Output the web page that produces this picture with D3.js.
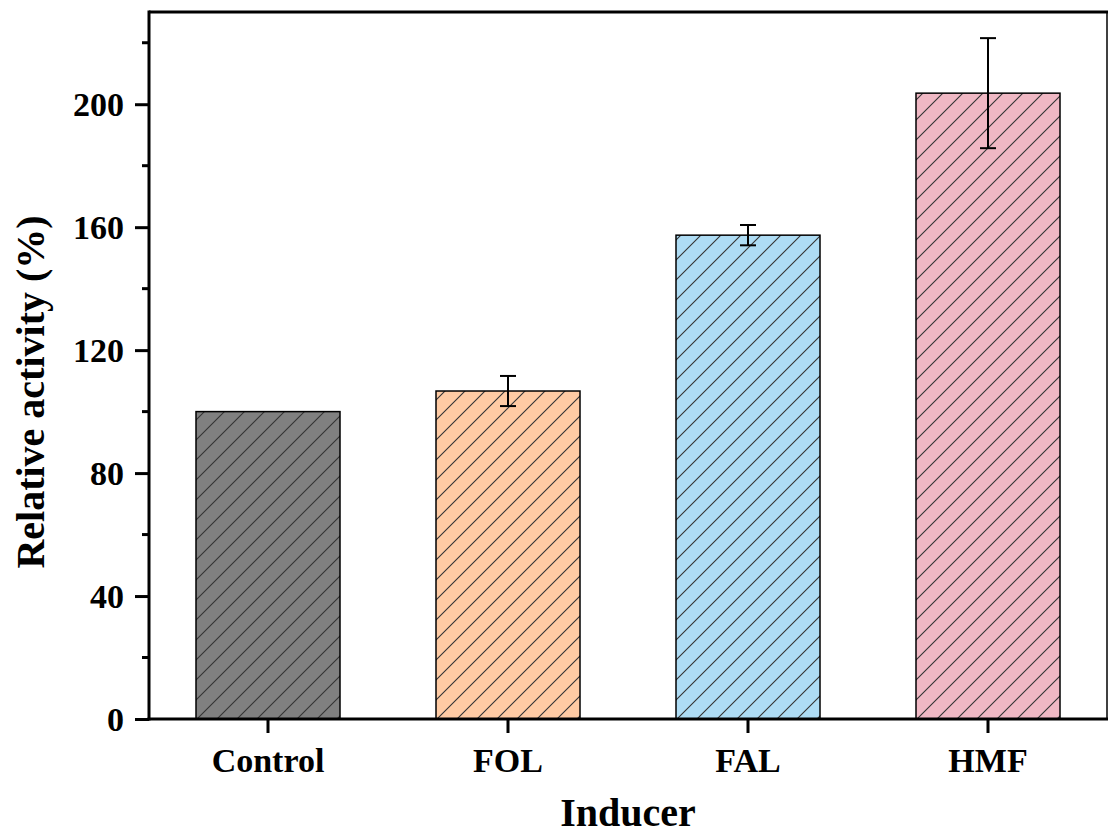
<!DOCTYPE html>
<html><head><meta charset="utf-8">
<script src="https://cdn.jsdelivr.net/npm/d3@7"></script>
<style>body{margin:0;background:#fff;} text{font-family:"Liberation Serif","Times New Roman",serif;font-weight:bold;}</style>
</head><body>
<svg id="c" width="1109" height="836"></svg>
<script>
const categories = ["Control","FOL","FAL","HMF"];
const values = [100, 106.7, 157.4, 203.6];
const errors = [0, 4.9, 3.3, 17.9];
const colors = ["#808080","#FFCBA4","#AEDCF4","#F0B8C4"];
const yTicks = [0,40,80,120,160,200];
const yMinorTicks = [20,60,100,140,180,220];

const svg = d3.select("#c");
const L=149, R=1107, T=12, B=719;
const x = d3.scaleBand().domain(categories).range([L-1,R+1]).paddingInner(0.4).paddingOuter(0.2);
const y = d3.scaleLinear().domain([0,230]).range([B,T]);

const defs = svg.append("defs");
categories.forEach((c,i)=>{
  const p = defs.append("pattern").attr("id","h"+i).attr("patternUnits","userSpaceOnUse")
    .attr("width",20).attr("height",20).attr("x",x(c)).attr("y",0);
  p.append("rect").attr("width",20).attr("height",20).attr("fill",colors[i]);
  p.append("path").attr("d","M-5,5 L5,-5 M0,20 L20,0 M15,25 L25,15").attr("stroke","#333").attr("stroke-width",1.1);
});

// bars
svg.selectAll("rect.bar").data(categories).enter().append("rect")
  .attr("x",d=>x(d)).attr("width",x.bandwidth())
  .attr("y",(d,i)=>y(values[i])).attr("height",(d,i)=>y(0)-y(values[i]))
  .attr("fill",(d,i)=>`url(#h${i})`).attr("stroke","#000").attr("stroke-width",1.5);

// error bars
categories.forEach((c,i)=>{
  if(!errors[i]) return;
  const cx = x(c)+x.bandwidth()/2;
  const g = svg.append("g").attr("stroke","#000").attr("stroke-width",2);
  g.append("line").attr("x1",cx).attr("x2",cx).attr("y1",y(values[i]+errors[i])).attr("y2",y(values[i]-errors[i]));
  [values[i]+errors[i], values[i]-errors[i]].forEach(v=>{
    g.append("line").attr("x1",cx-8).attr("x2",cx+8).attr("y1",y(v)).attr("y2",y(v));
  });
});

// frame
svg.append("line").attr("x1",L).attr("x2",R+1).attr("y1",T).attr("y2",T).attr("stroke","#000").attr("stroke-width",3);
svg.append("line").attr("x1",R).attr("x2",R).attr("y1",T).attr("y2",B).attr("stroke","#000").attr("stroke-width",1.5);

// y axis
const ya = svg.append("g").attr("transform",`translate(${L},0)`)
  .call(d3.axisLeft(y).tickValues(yTicks).tickSize(14).tickPadding(11).tickFormat(d3.format("d")));
ya.select(".domain").attr("stroke-width",3).attr("d",`M0,${B+1.5}V${T-1.5}`);
ya.selectAll(".tick line").attr("stroke-width",3);
ya.selectAll(".tick text").attr("font-size",34).attr("font-family","Liberation Serif").attr("font-weight","bold").attr("fill","#000").attr("dy","0.33em");
svg.append("g").attr("transform",`translate(${L},0)`).selectAll("line").data(yMinorTicks).enter().append("line")
  .attr("x1",-7).attr("x2",0).attr("y1",d=>y(d)).attr("y2",d=>y(d)).attr("stroke","#000").attr("stroke-width",3);

// x axis
const xa = svg.append("g").attr("transform",`translate(0,${B})`)
  .call(d3.axisBottom(x).tickSize(14));
xa.select(".domain").attr("stroke-width",3).attr("d",`M${L-1.5},0H${R+1}`);
xa.selectAll(".tick line").attr("stroke-width",3);
xa.selectAll(".tick text").attr("font-size",34).attr("font-family","Liberation Serif").attr("font-weight","bold").attr("fill","#000")
  .attr("y",53).attr("dy","0");

// titles
svg.append("text").attr("x",(L+R)/2).attr("y",826).attr("text-anchor","middle").attr("font-size",40).text("Inducer");
svg.append("text").attr("transform",`translate(44,392) rotate(-90)`).attr("text-anchor","middle").attr("font-size",40).text("Relative activity (%)");
</script>
</body></html>
